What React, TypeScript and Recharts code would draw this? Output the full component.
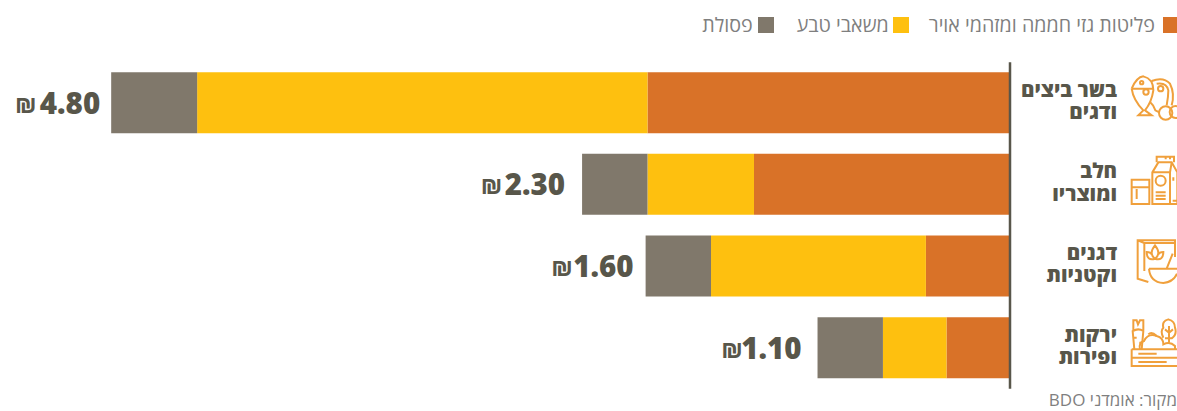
import { BarChart, Bar, XAxis, YAxis, Legend, LabelList } from 'recharts'

const categories = ['meat', 'dairy', 'grains', 'produce']
const categoryLines = [
  ['בשר ביצים', 'ודגים'],
  ['חלב', 'ומוצריו'],
  ['דגנים', 'וקטניות'],
  ['ירקות', 'ופירות'],
]
const emissions = [1.94, 1.37, 0.45, 0.34]
const resources = [2.41, 0.57, 1.15, 0.34]
const waste = [0.46, 0.35, 0.35, 0.35]
const totals = ['4.80', '2.30', '1.60', '1.10']

const seriesNames = ['פליטות גזי חממה ומזהמי אויר', 'משאבי טבע', 'פסולת']
const seriesColors = ['#d97228', '#fec00f', '#80786b']

const data = categories.map((name, i) => ({
  name,
  emissions: emissions[i],
  resources: resources[i],
  waste: waste[i],
}))

const DARK = '#58564a'
const ICON = '#f0a03c'

// hand placed, the source spaces these unevenly
const labelGaps = [11, 17, 12, 16]
const shekelGaps = [64, 63, 61, 59]
const legendSwatchGaps = [8, 4, 5]
const legendItemGaps = [20, 23, 0]

const FishIcon = () => (
  <>
    <path d="M395 85 Q410 50 430 48 Q460 55 460 90 Q455 125 435 150 L455 165 L415 165 L430 150 Q400 120 395 85 M395 85 H460" />
    <circle cx={425} cy={67} r={5} />
    <circle cx={438} cy={95} r={8} />
    <path d="M455 62 Q490 48 510 70 Q525 100 515 135 M470 70 Q500 65 505 90 Q505 110 500 135" />
    <circle cx={482} cy={85} r={8} />
    <circle cx={497} cy={158} r={20} />
    <circle cx={527} cy={155} r={18} />
    <path d="M450 125 Q462 135 466 150 L478 156" />
  </>
)

const MilkIcon = () => (
  <>
    <path d="M395 357 H448 V430 H395 Z M395 380 H448 M410 385 V415" />
    <path d="M457 430 V335 L475 305 H515 L532 335 V430 Z M457 335 H510 V430 M515 305 L510 335" />
    <path d="M470 305 V288 H522 V305 M497 288 V296 M510 288 V296" />
    <circle cx={482} cy={360} r={15} />
    <path d="M467 395 H497 M467 405 H497 M467 415 H497 M520 350 V360 M518 420 H532" />
  </>
)

const CerealIcon = () => (
  <>
    <path d="M445 155 L413 145 V30 H525 V80 M413 30 L433 38 V122 M433 38 H525" />
    <path d="M465 85 Q445 70 465 45 Q485 70 465 85 M465 85 Q440 92 440 65 Q452 65 455 72 M465 85 Q490 92 490 65 Q478 65 475 72" />
    <path d="M447 115 H531 M447 115 Q450 155 490 158 Q520 155 531 130 M500 115 L518 70" />
  </>
)

const ProduceIcon = () => (
  <>
    <path d="M395 355 H535 M395 355 V405 H535 M395 380 H535 M415 368 H470 M415 393 H500" />
    <path d="M403 355 L398 300 Q415 290 430 300 L425 355 M400 298 V268 H410 L414 280 L420 268 H430 V298 M398 320 H410 M418 335 H428" />
    <path d="M420 355 Q415 335 432 330 Q445 305 470 315 Q490 320 490 340 Q510 330 525 345 V355" />
    <path d="M445 310 Q455 300 470 315 M490 320 Q480 300 490 290 Q485 270 505 265 Q525 270 525 290 Q532 310 515 322 H495 M507 335 V285 M507 305 L495 295 M507 305 L519 295" />
  </>
)

const icons = [FishIcon, MilkIcon, CerealIcon, ProduceIcon]
const iconCenters = [128, 372, 108, 351]

const CategoryTick = ({ x, y, index }: any) => {
  const Icon = icons[index]
  const scale = 1 / 3
  return (
    <g>
      <g
        transform={`translate(${x - 18}, ${y - iconCenters[index] * scale}) scale(${scale})`}
        fill="none"
        stroke={ICON}
        strokeWidth={6}
      >
        <Icon />
      </g>
      <text x={x + 99} y={y} textAnchor="end" fontFamily="'Open Sans'" fontWeight={800} fontSize={20.5} fill={DARK}>
        <tspan x={x + 99} dy={-6.5}>{categoryLines[index][0]}</tspan>
        <tspan x={x + 99} dy={22.5}>{categoryLines[index][1]}</tspan>
      </text>
    </g>
  )
}

const TotalLabel = ({ x, y, width, height, index }: any) => {
  const right = Math.min(x, x + width) - labelGaps[index]
  const baseline = y + height / 2 + 11
  return (
    <g fontFamily="'Open Sans'" fontWeight={800} fill={DARK}>
      <text x={right} y={baseline} textAnchor="end" fontSize={29.5}>
        {totals[index]}
      </text>
      <text x={right - shekelGaps[index]} y={baseline - 1} textAnchor="end" fontSize={21}>
        ₪
      </text>
    </g>
  )
}

const LegendRow = () => (
  <div
    dir="rtl"
    style={{
      display: 'flex',
      fontFamily: "'Open Sans'",
      fontSize: 19.7,
      color: '#7f7f7f',
      lineHeight: '16px',
      marginRight: -2,
    }}
  >
    {seriesNames.map((name, i) => (
      <div key={name} style={{ display: 'flex', alignItems: 'center', marginLeft: legendItemGaps[i] }}>
        <span style={{ width: 16, height: 16, background: seriesColors[i], marginLeft: legendSwatchGaps[i] }} />
        <span>{name}</span>
      </div>
    ))}
  </div>
)

export default function App() {
  return (
    <div style={{ position: 'absolute', left: 0, top: 0, width: 1177, height: 411, overflow: 'hidden' }}>
      <BarChart
        width={1177}
        height={411}
        data={data}
        layout="vertical"
        barSize={61}
        margin={{ top: 22.2, right: 0, bottom: 22.13, left: 0 }}
      >
        <XAxis type="number" hide reversed domain={[0, 5.405]} />
        <YAxis
          type="category"
          dataKey="name"
          orientation="right"
          width={167}
          interval={0}
          tick={CategoryTick}
          tickLine={false}
          axisLine={{ stroke: DARK, strokeWidth: 2.5 }}
        />
        <Legend
          verticalAlign="top"
          height={40}
          content={LegendRow}
          wrapperStyle={{ top: 17, left: 0, width: 1177 }}
        />
        <Bar dataKey="emissions" name={seriesNames[0]} stackId="a" fill={seriesColors[0]} isAnimationActive={false} />
        <Bar dataKey="resources" name={seriesNames[1]} stackId="a" fill={seriesColors[1]} isAnimationActive={false} />
        <Bar dataKey="waste" name={seriesNames[2]} stackId="a" fill={seriesColors[2]} isAnimationActive={false}>
          <LabelList content={TotalLabel} />
        </Bar>
      </BarChart>
      <div
        dir="rtl"
        style={{
          position: 'absolute',
          right: 0,
          top: 388,
          fontFamily: "'Open Sans'",
          fontSize: 17,
          color: '#7f7f7f',
        }}
      >
        מקור: אומדני BDO
      </div>
    </div>
  )
}
